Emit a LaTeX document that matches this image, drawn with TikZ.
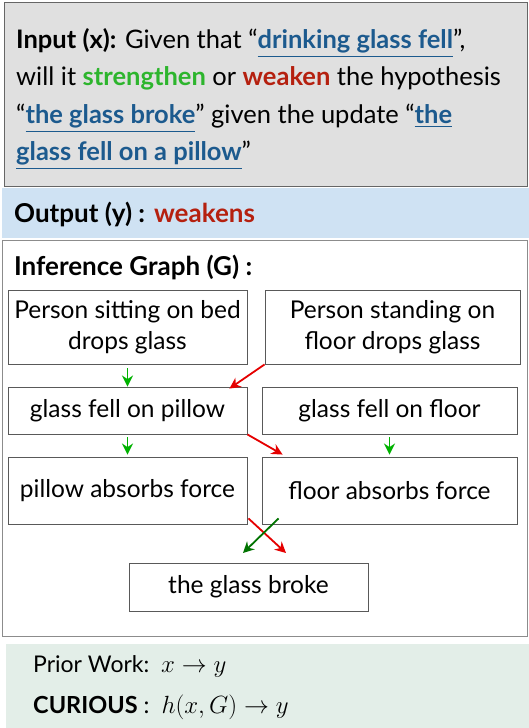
\documentclass[tikz,border=0pt]{standalone}
\usepackage{fontspec}
\usepackage{amsmath}
\setmainfont{Lato}
\usetikzlibrary{arrows.meta, positioning}
\definecolor{inputgray}{HTML}{E0E0E0}
\definecolor{outblue}{HTML}{CFE2F3}
\definecolor{priorgreen}{HTML}{E3EEE8}
\definecolor{linkblue}{HTML}{1C5A8E}
\definecolor{strgreen}{HTML}{2DB52D}
\definecolor{weakred}{HTML}{B5200F}
\colorlet{greenarrow}{green!70!black}
\colorlet{darkgreenarrow}{green!45!black}
\colorlet{redarrow}{red!90!black}
\newcommand{\hl}[1]{\textcolor{linkblue}{\textbf{\underline{#1}}}}

\begin{document}
\begin{tikzpicture}[x=1pt, y=-1pt, >={Stealth[length=11pt, width=11pt]},
    box/.style={draw=black!65, line width=0.9pt, align=center, inner sep=0pt,
      font=\fontsize{24.5}{31}\selectfont},
    strengthens/.style={->, greenarrow, line width=1.8pt},
    weakens/.style={->, redarrow, line width=1.8pt}]
    \useasboundingbox (0,0) rectangle (529,728);

    % Input panel
    \draw[fill=inputgray, draw=black!60, line width=1pt] (4,2) rectangle (527,186);
    \node[anchor=north west, align=left, inner sep=0pt, font=\fontsize{25.5}{37.5}\selectfont] (input) at (16,28)
      {\textbf{Input (x):} Given that “\hl{drinking glass fell}”,\\
       will it \textcolor{strgreen}{\textbf{strengthen}} or \textcolor{weakred}{\textbf{weaken}} the hypothesis\\
       “\hl{the glass broke}” given the update “\hl{the}\\
       \hl{glass fell on a pillow}”};

    % Output band
    \fill[outblue] (2,188) rectangle (529,238);
    \node[anchor=west, inner sep=0pt, font=\fontsize{26}{30}\selectfont] (output) at (14,214)
      {\textbf{Output (y) :} \textcolor{weakred}{\textbf{weakens}}};

    % Graph panel
    \draw[fill=white, draw=black!45, line width=1pt] (2,240) rectangle (527,636);
    \node[anchor=west, inner sep=0pt, font=\fontsize{26}{30}\selectfont] (graphtitle) at (14,267)
      {\textbf{Inference Graph (G) :}};

    % Nodes
    \node[box, minimum width=239pt, minimum height=74pt] (sitbed) at (127.5,327) {Person sitting on bed\\drops glass};
    \node[box, minimum width=255pt, minimum height=74pt] (standfloor) at (392.5,327) {Person standing on\\floor drops glass};
    \node[box, minimum width=239pt, minimum height=47pt] (fellpillow) at (127.5,410.5) {glass fell on pillow};
    \node[box, minimum width=255pt, minimum height=47pt] (fellfloor) at (389.5,410.5) {glass fell on floor};
    \node[box, minimum width=239pt, minimum height=67pt] (pillowabs) at (127.5,490.5) {pillow absorbs force};
    \node[box, minimum width=255pt, minimum height=67pt] (floorabs) at (389.5,490.5) {floor absorbs force};
    \node[box, minimum width=239pt, minimum height=48pt] (broke) at (248.5,587) {the glass broke};

    % Edges
    \draw[strengthens] ([yshift=-4pt]sitbed.south) -- (fellpillow.north);
    \draw[weakens] (standfloor.south west) -- ([xshift=-18pt, yshift=-2pt]fellpillow.north east);
    \draw[strengthens] ([yshift=-3pt]fellpillow.south) -- ([yshift=2pt]pillowabs.north);
    \draw[weakens] (fellpillow.south east) -- ([xshift=21pt, yshift=2pt]floorabs.north west);
    \draw[strengthens] ([yshift=-3pt]fellfloor.south) -- ([yshift=2pt]floorabs.north);

    % Crossed edges into the hypothesis
    \coordinate (redend) at (286,553);
    \coordinate (greenend) at (243,553);
    \draw[weakens] ([shift={(1pt,6pt)}]pillowabs.south east) -- (redend);
    \draw[->, darkgreenarrow, line width=1.8pt] ([shift={(17pt,6pt)}]floorabs.south west) -- (greenend);

    % Prior work panel
    \fill[priorgreen] (6,644) rectangle (529,728);
    \node[anchor=west, inner sep=0pt, font=\fontsize{23}{28}\selectfont] (prior) at (33,666)
      {Prior Work:\ \ $x \rightarrow y$};
    \node[anchor=west, inner sep=0pt, font=\fontsize{23.5}{28}\selectfont] (curious) at (33,707)
      {\textbf{CURIOUS} :\ \ $h(x,G) \rightarrow y$};
  \end{tikzpicture}
\end{document}
